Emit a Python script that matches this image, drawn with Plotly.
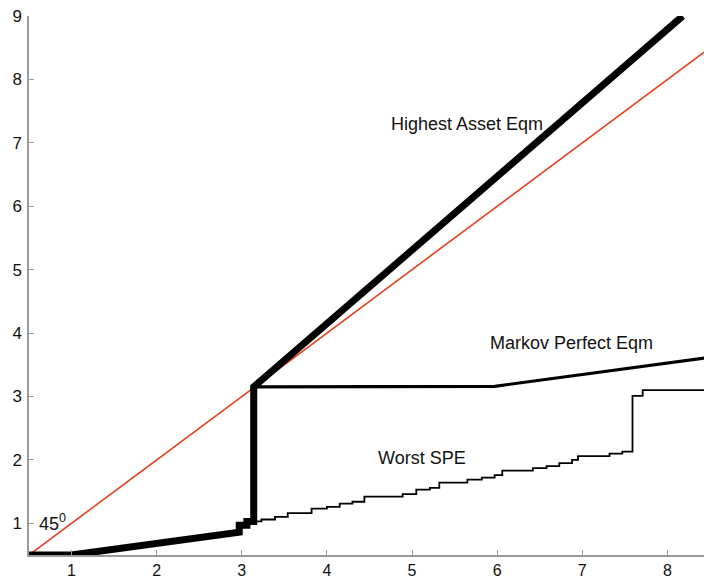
import plotly.graph_objects as go

# 45-degree reference line
diag_x = [0.5, 8.45]
diag_y = [0.5, 8.45]

# Highest Asset Eqm (thick)
high_x = [0.5, 1.0, 2.97, 2.97, 3.06, 3.06, 3.14, 3.14, 8.18]
high_y = [0.5, 0.5, 0.86, 0.97, 0.97, 1.03, 1.03, 3.15, 9.0]

# Markov Perfect Eqm (medium)
mpe_x = [3.15, 5.97, 8.45]
mpe_y = [3.15, 3.16, 3.61]

# Worst SPE (thin staircase)
spe_x = [3.13, 3.23, 3.39, 3.54, 3.82, 4.00, 4.15, 4.30, 4.44, 4.89, 5.05, 5.21,
         5.32, 5.65, 5.82, 5.97, 6.06, 6.42, 6.58, 6.73, 6.88, 6.95, 7.32, 7.47,
         7.59, 7.71, 8.45]
spe_y = [1.03, 1.06, 1.10, 1.16, 1.23, 1.26, 1.31, 1.34, 1.42, 1.46, 1.53, 1.56,
         1.64, 1.69, 1.72, 1.76, 1.83, 1.87, 1.90, 1.95, 2.00, 2.06, 2.10, 2.13,
         3.01, 3.10, 3.10]

x_ticks = [1, 2, 3, 4, 5, 6, 7, 8]
y_ticks = [1, 2, 3, 4, 5, 6, 7, 8, 9]

labels = [
    ("Highest Asset Eqm", 5.64, 7.29),
    ("Markov Perfect Eqm", 6.87, 3.85),
    ("Worst SPE", 5.12, 2.03),
    ("45<sup>0</sup>", 0.78, 1.02),
]

fig = go.Figure()
fig.add_trace(go.Scatter(x=diag_x, y=diag_y, mode="lines",
                         line=dict(color="#e8401c", width=1.6), hoverinfo="skip"))
fig.add_trace(go.Scatter(x=spe_x, y=spe_y, mode="lines", line_shape="hv",
                         line=dict(color="black", width=1.8), hoverinfo="skip"))
fig.add_trace(go.Scatter(x=mpe_x, y=mpe_y, mode="lines",
                         line=dict(color="black", width=3.2), hoverinfo="skip"))
fig.add_trace(go.Scatter(x=high_x, y=high_y, mode="lines",
                         line=dict(color="black", width=7), hoverinfo="skip"))

for txt, x, y in labels:
    fig.add_annotation(x=x, y=y, text=txt, showarrow=False,
                       font=dict(family="Liberation Sans, Arial", size=18, color="#111"))

axis_common = dict(showline=True, linecolor="#9a9a9a", linewidth=1.5,
                   ticks="inside", ticklen=5, tickcolor="#9a9a9a", tickwidth=1,
                   showgrid=False, zeroline=False, automargin=False,
                   ticklabeloverflow="allow")

fig.update_layout(
    width=704, height=577,
    margin=dict(l=29, r=0, t=16, b=22, autoexpand=False),
    plot_bgcolor="white", paper_bgcolor="white",
    showlegend=False,
    xaxis=dict(range=[0.5, 8.43], tickvals=x_ticks, ticklabelstandoff=0,
               tickfont=dict(family="Liberation Sans, Arial", size=16, color="#111"),
               **axis_common),
    yaxis=dict(range=[0.5, 9], tickvals=y_ticks, ticklabelstandoff=2,
               tickfont=dict(family="Liberation Sans, Arial", size=17, color="#111"),
               **axis_common),
)

fig.write_html(
    "out.html",
    config={"displayModeBar": False},
    post_script="document.body.style.margin='0';document.body.style.overflow='hidden';",
)
